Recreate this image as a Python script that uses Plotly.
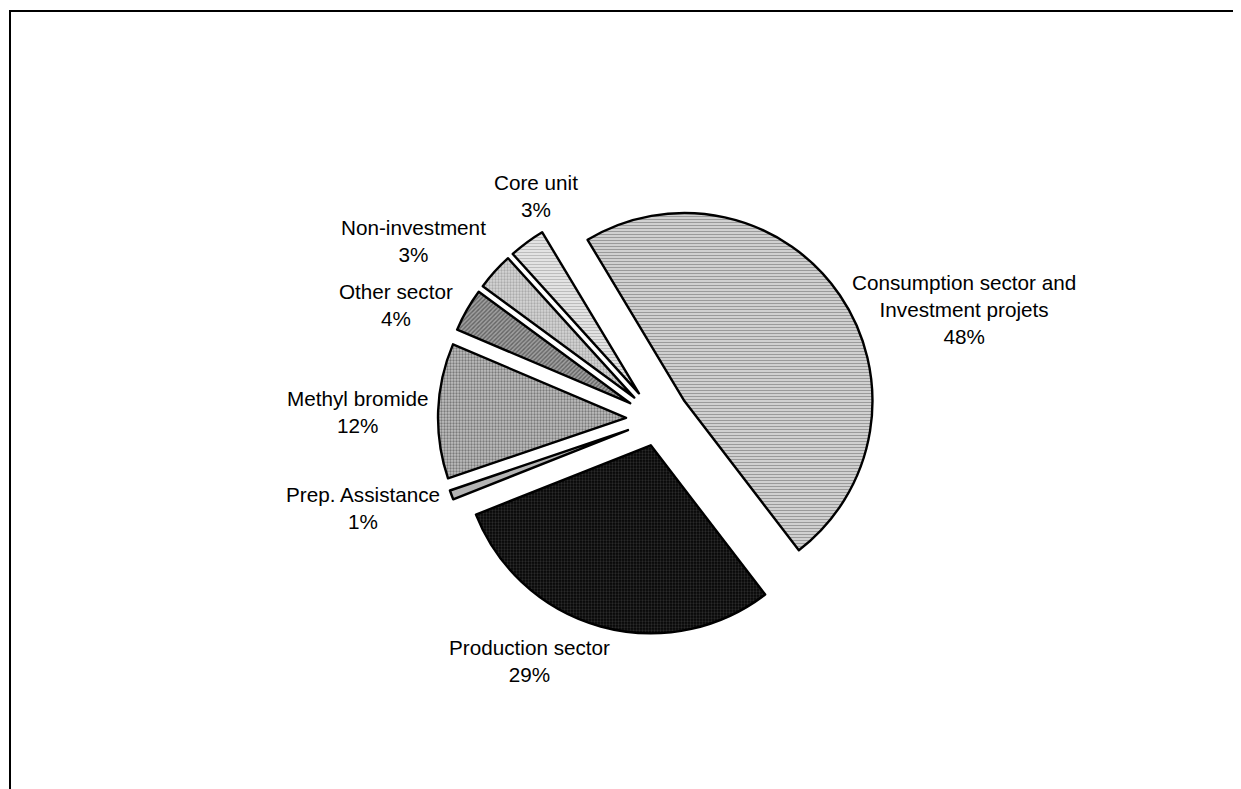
import plotly.graph_objects as go

# ---- Data (clockwise from the start angle) ----
categories = [
    "Consumption sector and Investment projets",
    "Production sector",
    "Prep. Assistance",
    "Methyl bromide",
    "Other sector",
    "Non-investment",
    "Core unit",
]
shares = [48.2, 29.4, 0.8, 11.6, 3.7, 3.2, 3.1]

# ---- Styles / layout ----
colors = ["#bdbdbd", "#151515", "#b4b4b4", "#a4a4a4", "#858585", "#c6c6c6", "#dcdcdc"]
pat_shape = ["-", ".", "", ".", "/", ".", "-"]
pat_fg = ["#9a9a9a", "#2a2a2a", "#b4b4b4", "#7a7a7a", "#646464", "#ababab", "#bdbdbd"]
pat_bg = ["#dcdcdc", "#050505", "#b4b4b4", "#c0c0c0", "#a0a0a0", "#d6d6d6", "#ececec"]
pulls = [0.17, 0.145, 0.17, 0.17, 0.17, 0.17, 0.17]
# label line breaks and label centres (screen pixels of the photographed page)
label_wrap = {"Consumption sector and Investment projets": "Consumption sector and<br>Investment projets"}
label_pos = [(964, 309), (529, 661), (363, 508), (357, 412), (396, 305), (413, 241), (536, 196)]

W, H = 1241, 789
OFF = 8                       # page offset of the plot inside the browser window
cx, cy, R = 658 - OFF, 419 - OFF, 220   # pie box centre / half size in figure pixels
FONT = "Liberation Sans, Arial, sans-serif"

fig = go.Figure()
fig.add_trace(go.Pie(
    labels=categories,
    values=shares,
    sort=False,
    direction="clockwise",
    rotation=-31,
    pull=pulls,
    marker=dict(
        colors=colors,
        line=dict(color="black", width=2.4),
        pattern=dict(shape=pat_shape, fgcolor=pat_fg, bgcolor=pat_bg,
                     size=3, solidity=0.45, fillmode="replace"),
    ),
    textinfo="none",
    showlegend=False,
    hoverinfo="label+percent",
    domain=dict(x=[(cx - R) / W, (cx + R) / W], y=[(H - cy - R) / H, (H - cy + R) / H]),
))

total = sum(shares)
for name, val, (px, py) in zip(categories, shares, label_pos):
    txt = f"{label_wrap.get(name, name)}<br>{round(val / total * 100)}%"
    fig.add_annotation(
        xref="paper", yref="paper",
        x=(px - OFF) / W, y=1 - (py - OFF) / H,
        xanchor="center", yanchor="middle",
        text=txt, showarrow=False, align="center",
        font=dict(family=FONT, size=20.7, color="black"),
    )

fig.add_shape(type="rect", xref="paper", yref="paper",
              x0=(10 - OFF) / W, x1=1.02, y0=-0.02, y1=1 - (11 - OFF) / H,
              line=dict(color="black", width=2), fillcolor="rgba(0,0,0,0)")

fig.update_layout(
    width=W, height=H,
    margin=dict(l=0, r=0, t=0, b=0),
    paper_bgcolor="white", plot_bgcolor="white",
    font=dict(family=FONT, size=20.7, color="black"),
)

fig.write_html("out.html")
